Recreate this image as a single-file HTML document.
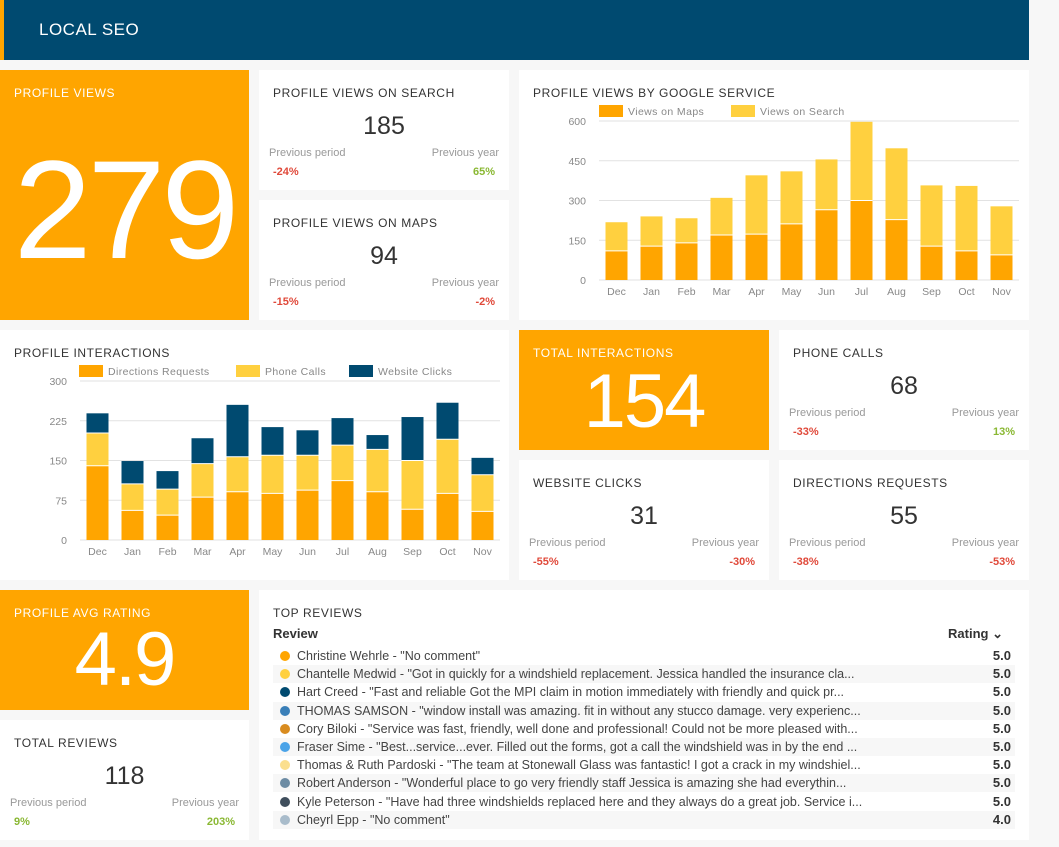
<!DOCTYPE html>
<html><head><meta charset="utf-8">
<style>
*{box-sizing:border-box;margin:0;padding:0}
body{width:1059px;height:847px;background:#f7f7f7;font-family:"Liberation Sans",sans-serif;position:relative;overflow:hidden;color:#333}
.p{position:absolute;background:#fff}
.o{background:#ffa500;color:#fff}
.t{position:absolute;left:14px;top:16px;font-size:12px;letter-spacing:.6px;color:#333}
.o .t{color:#fff}
.big{position:absolute;width:100%;text-align:center;font-size:25px;color:#333;top:42px}
.lab{position:absolute;font-size:11px;color:#999;top:77px}
.val{position:absolute;font-size:11px;font-weight:bold;top:96px}
.neg{color:#e0493a}.pos{color:#8ab833}
.rv{position:absolute;left:14px;right:14px;height:18px;font-size:12.5px;color:#444;line-height:18px}
.rv.s{background:#f7f7f7}
.rv .d{position:absolute;left:7px;top:4px;width:10px;height:10px;border-radius:50%}
.rv .tx{position:absolute;left:24px;width:640px;white-space:nowrap;overflow:hidden;text-overflow:ellipsis}
.rv .r{position:absolute;right:4px;font-weight:bold;font-size:13px;color:#333}
</style></head><body>
<div style="position:absolute;left:0;top:0;width:1029px;height:60px;background:#004a70;border-left:4px solid #ffa500">
<div style="position:absolute;left:35px;top:20px;color:#fff;font-size:17px;letter-spacing:.5px">LOCAL SEO</div></div>

<div class="p o" style="left:0;top:70px;width:249px;height:250px">
<div class="t">PROFILE VIEWS</div>
<div style="position:absolute;width:100%;text-align:center;top:60px;font-size:140px;line-height:160px;letter-spacing:-4px">279</div></div>

<div class="p" style="left:259px;top:70px;width:250px;height:120px">
<div class="t">PROFILE VIEWS ON SEARCH</div><div class="big">185</div>
<div class="lab" style="left:10px">Previous period</div><div class="lab" style="right:10px">Previous year</div>
<div class="val neg" style="left:14px">-24%</div><div class="val pos" style="right:14px">65%</div></div>

<div class="p" style="left:259px;top:200px;width:250px;height:120px">
<div class="t">PROFILE VIEWS ON MAPS</div><div class="big">94</div>
<div class="lab" style="left:10px">Previous period</div><div class="lab" style="right:10px">Previous year</div>
<div class="val neg" style="left:14px">-15%</div><div class="val neg" style="right:14px">-2%</div></div>

<div class="p" style="left:519px;top:70px;width:510px;height:250px">
<div class="t">PROFILE VIEWS BY GOOGLE SERVICE</div>
<svg id="c1" width="510" height="250" style="position:absolute;left:0;top:0"></svg></div>

<div class="p" style="left:0;top:330px;width:509px;height:250px">
<div class="t">PROFILE INTERACTIONS</div>
<svg id="c2" width="509" height="250" style="position:absolute;left:0;top:0"></svg></div>

<div class="p o" style="left:519px;top:330px;width:250px;height:120px">
<div class="t">TOTAL INTERACTIONS</div>
<div style="position:absolute;width:100%;text-align:center;top:30px;font-size:76px;line-height:84px;letter-spacing:-2px">154</div></div>

<div class="p" style="left:779px;top:330px;width:250px;height:120px">
<div class="t">PHONE CALLS</div><div class="big">68</div>
<div class="lab" style="left:10px">Previous period</div><div class="lab" style="right:10px">Previous year</div>
<div class="val neg" style="left:14px">-33%</div><div class="val pos" style="right:14px">13%</div></div>

<div class="p" style="left:519px;top:460px;width:250px;height:120px">
<div class="t">WEBSITE CLICKS</div><div class="big">31</div>
<div class="lab" style="left:10px">Previous period</div><div class="lab" style="right:10px">Previous year</div>
<div class="val neg" style="left:14px">-55%</div><div class="val neg" style="right:14px">-30%</div></div>

<div class="p" style="left:779px;top:460px;width:250px;height:120px">
<div class="t">DIRECTIONS REQUESTS</div><div class="big">55</div>
<div class="lab" style="left:10px">Previous period</div><div class="lab" style="right:10px">Previous year</div>
<div class="val neg" style="left:14px">-38%</div><div class="val neg" style="right:14px">-53%</div></div>

<div class="p o" style="left:0;top:590px;width:249px;height:120px">
<div class="t">PROFILE AVG RATING</div>
<div style="position:absolute;width:100%;text-align:center;top:28px;font-size:76px;line-height:84px;letter-spacing:-2px">4.9</div></div>

<div class="p" style="left:0;top:720px;width:249px;height:120px">
<div class="t">TOTAL REVIEWS</div><div class="big">118</div>
<div class="lab" style="left:10px">Previous period</div><div class="lab" style="right:10px">Previous year</div>
<div class="val pos" style="left:14px">9%</div><div class="val pos" style="right:14px">203%</div></div>

<div class="p" style="left:259px;top:590px;width:770px;height:250px">
<div class="t">TOP REVIEWS</div>
<div style="position:absolute;left:14px;top:36px;font-size:13px;font-weight:bold">Review</div>
<div style="position:absolute;right:26px;top:36px;font-size:13px;font-weight:bold">Rating &#8964;</div>
<div id="rows"></div></div>

<script>
const months=["Dec","Jan","Feb","Mar","Apr","May","Jun","Jul","Aug","Sep","Oct","Nov"];
const viewsMaps=[110,128,140,170,173,212,265,300,228,128,110,95];
const viewsSearch=[108,112,93,140,222,198,190,297,269,229,245,183];
const yTicks1=[0,150,300,450,600];
const directions=[140,56,47,81,91,88,94,112,91,58,88,54];
const phoneCalls=[62,50,49,63,66,72,66,67,80,92,102,69];
const webClicks=[37,43,34,48,98,53,47,51,27,82,69,32];
const yTicks2=[0,75,150,225,300];
const ORANGE="#ffa500",YEL="#ffd03f",NAVY="#004a70";
const NS="http://www.w3.org/2000/svg";
function mk(svg,tag,at,txt){const e=document.createElementNS(NS,tag);for(const k in at)e.setAttribute(k,at[k]);if(txt!==undefined)e.textContent=txt;svg.appendChild(e);return e;}
function chart(id,series,colors,names,ticks,max,legX){
  const svg=document.getElementById(id);
  const x0=80,x1=500,y0=210,yT=51;
  const y=v=>y0-(v/max)*(y0-yT);
  const step=(x1-x0)/months.length;
  ticks.forEach(t=>{
    const l=mk(svg,"line",{x1:x0,x2:x1,y1:y(t),y2:y(t),stroke:"#e2e2e2","stroke-width":1});
    
    
    const tx=mk(svg,"text",{x:x0-13,y:y(t)+4,"text-anchor":"end","font-size":10.5,fill:"#888"},t);
    
    
  });
  names.forEach((n,i)=>{
    const r=mk(svg,"rect",{x:legX[i],y:35,width:24,height:12,fill:colors[i]});
    
    
    const t=mk(svg,"text",{x:legX[i]+29,y:45,"font-size":10.5,fill:"#888","letter-spacing":".4"},n);
    
    
  });
  months.forEach((m,i)=>{
    const cx=x0+step*(i+0.5);let acc=0;
    series.forEach((s,k)=>{
      const top=y(acc+s[i]),bot=y(acc);
      const r=mk(svg,"rect",{x:cx-11,y:top,width:22,height:Math.max(0,bot-top),fill:colors[k]});
      
      
      if(k>0){const l=mk(svg,"line",{x1:cx-11,x2:cx+11,y1:bot,y2:bot,stroke:"#fff","stroke-width":1});
        
        }
      acc+=s[i];
    });
    const t=mk(svg,"text",{x:cx,y:y0+15,"text-anchor":"middle","font-size":10.5,fill:"#888"},m);
    
    
  });
}
chart("c1",[viewsMaps,viewsSearch],[ORANGE,YEL],["Views on Maps","Views on Search"],yTicks1,600,[80,212]);
chart("c2",[directions,phoneCalls,webClicks],[ORANGE,YEL,NAVY],["Directions Requests","Phone Calls","Website Clicks"],yTicks2,300,[79,236,349]);

const reviewers=["Christine Wehrle - \"No comment\"","Chantelle Medwid - \"Got in quickly for a windshield replacement. Jessica handled the insurance cla...","Hart Creed - \"Fast and reliable Got the MPI claim in motion immediately with friendly and quick pr...","THOMAS SAMSON - \"window install was amazing. fit in without any stucco damage. very experienc...","Cory Biloki - \"Service was fast, friendly, well done and professional! Could not be more pleased with...","Fraser Sime - \"Best...service...ever. Filled out the forms, got a call the windshield was in by the end ...","Thomas & Ruth Pardoski - \"The team at Stonewall Glass was fantastic! I got a crack in my windshiel...","Robert Anderson - \"Wonderful place to go very friendly staff Jessica is amazing she had everythin...","Kyle Peterson - \"Have had three windshields replaced here and they always do a great job. Service i...","Cheyrl Epp - \"No comment\""];
const ratings=["5.0","5.0","5.0","5.0","5.0","5.0","5.0","5.0","5.0","4.0"];
const dots=["#ffa500","#ffd03f","#004a70","#3a7fb8","#d98c1f","#4aa3e8","#fbdf8e","#6d8ca4","#3f4e5c","#a9bccb"];
const rows=document.getElementById("rows");
reviewers.forEach((r,i)=>{
  const d=document.createElement("div");
  d.className="rv"+(i%2?" s":"");
  d.style.top=(57+i*18.2)+"px";
  
  
  d.innerHTML='<span class="d" style="background:'+dots[i]+'"></span><span class="tx"></span><span class="r"></span>';
  d.querySelector(".tx").textContent=r;
  d.querySelector(".r").textContent=ratings[i];
  rows.appendChild(d);
});
</script>
</body></html>
